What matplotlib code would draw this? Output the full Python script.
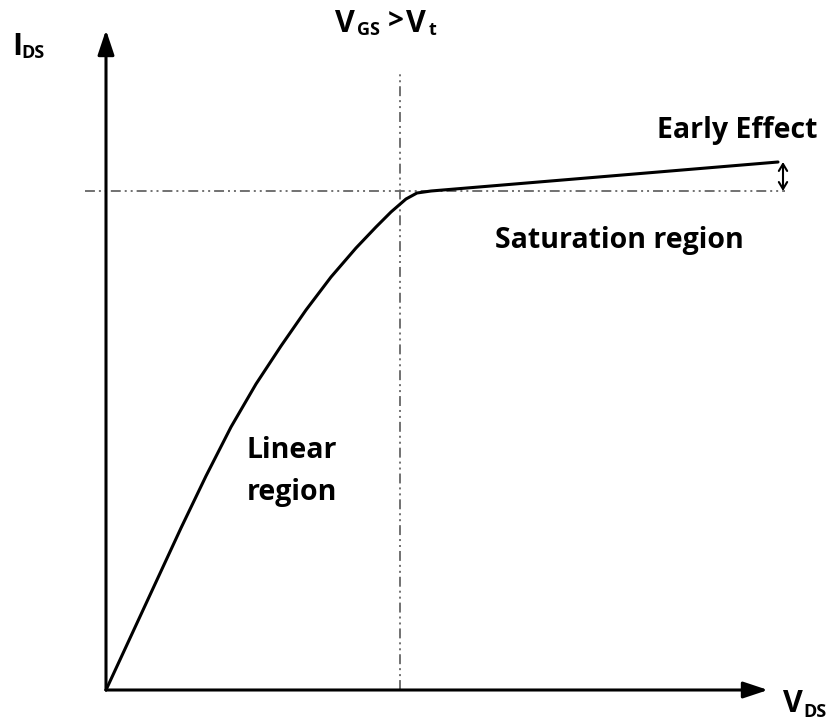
import numpy as np
import matplotlib.pyplot as plt

plt.rcParams['font.family'] = ['Open Sans', 'DejaVu Sans']

# I-V curve (V_DS, I_DS), arbitrary units
v_lin = [0, 25, 50, 75, 100, 125, 150, 175, 200, 225, 250, 270, 285, 300, 311]
i_lin = [0, 54, 108, 162, 214, 263, 306, 344, 380, 413, 442, 463, 478, 491, 497]
v_sat = [311, 325, 672]
i_sat = [497, 499, 528]
v_knee = 294      # V_DS where the curve saturates
i_knee = 499
v_max = 662       # end of x axis
i_max = 660       # end of y axis

fig = plt.figure(figsize=(8.28, 7.2), dpi=100)
ax = fig.add_axes([0, 0, 1, 1])
ax.set_xlim(-106, 722)
ax.set_ylim(-30, 690)
ax.axis('off')

# axes with arrow heads
arr = dict(arrowstyle='-|>,head_length=1.5,head_width=0.5', color='black', lw=2.2,
           shrinkA=0, shrinkB=0)
ax.annotate('', xy=(0, i_max), xytext=(0, 0), arrowprops=arr)
ax.annotate('', xy=(v_max, 0), xytext=(0, 0), arrowprops=arr)

# dash-dot-dot guide lines
dd = [5.5, 2.2, 1.1, 2.2, 1.1, 2.2]
ax.plot([v_knee, v_knee], [0, 618], color='#666666', lw=1.3, dashes=dd)
ax.plot([-21, 679], [i_knee, i_knee], color='#666666', lw=1.3, dashes=dd)

# curve
ax.plot(v_lin + v_sat[1:], i_lin + i_sat[1:], color='black', lw=2.2,
        solid_capstyle='round', solid_joinstyle='round')

# early effect double arrow
ax.annotate('', xy=(677, i_sat[-1]), xytext=(677, i_knee),
            arrowprops=dict(arrowstyle='<->,head_length=0.5,head_width=0.3', color='black', lw=1.5,
                            shrinkA=0, shrinkB=0))

big = 22
small = 13
kw = dict(fontweight='bold', ha='left', va='baseline')
# I_DS
ax.text(-94, 635, 'I', fontsize=big, **kw)
ax.text(-85, 632, 'DS', fontsize=small, **kw)
# V_GS > V_t
ax.text(229, 658, 'V', fontsize=big, **kw)
ax.text(251, 655, 'GS', fontsize=small, **kw)
ax.text(282, 660, '>', fontsize=20, **kw)
ax.text(300, 658, 'V', fontsize=big, **kw)
ax.text(323, 655, 't', fontsize=small, **kw)
# V_DS
ax.text(677, -22, 'V', fontsize=big, **kw)
ax.text(697, -27, 'DS', fontsize=small, **kw)

fs = 20.5
ax.text(551, 552, 'Early Effect', fontsize=fs, **kw)
ax.text(389, 442, 'Saturation region', fontsize=fs, **kw)
ax.text(141, 232, 'Linear', fontsize=fs, **kw)
ax.text(141, 190, 'region', fontsize=fs, **kw)

fig.savefig('out.png', dpi=100)
